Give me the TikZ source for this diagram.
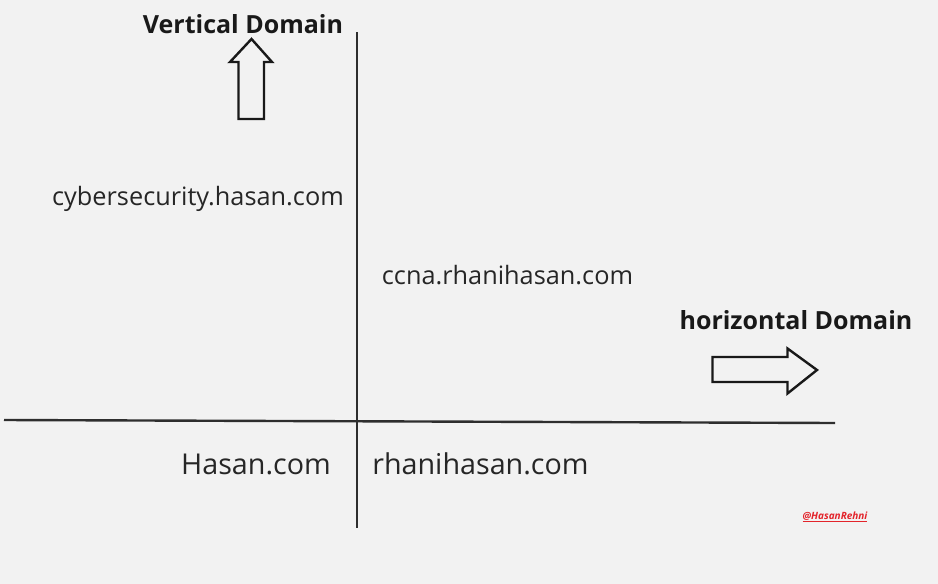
\documentclass[tikz,border=0pt]{standalone}
\usepackage{fontspec}
\setmainfont{Open Sans}
\usetikzlibrary{positioning}
\definecolor{bggray}{HTML}{F2F2F2}
\definecolor{axisgray}{HTML}{2E2E2E}
\definecolor{tagred}{HTML}{E3242B}

\begin{document}
\begin{tikzpicture}[
    x=1pt, y=-1pt,
    axis/.style={draw=axisgray, line width=2.4pt},
    blockarrow/.style={draw=black!90, line width=2.4pt, line join=miter},
    sitename/.style={font=\fontsize{28.7}{34}\selectfont, text=black!85,
                   inner sep=0pt, anchor=base},
    subsite/.style={sitename, font=\fontsize{25.3}{30}\selectfont},
    heading/.style={font=\fontsize{25}{30}\selectfont\bfseries, text=black!90,
                    inner sep=0pt, anchor=base}
  ]
  \fill[bggray] (0,0) rectangle (938,584);
  \useasboundingbox (0,0) rectangle (938,584);

  % axes
  \coordinate (vtop) at (357,32);
  \coordinate (vbot) at (357,528);
  \coordinate (hleft) at (4,420);
  \coordinate (hright) at (835,423);
  \draw[axis] (vtop) -- (vbot);
  \draw[axis] (hleft) -- (hright);

  % headings and block arrows
  \node[heading] (vert) at (243,33.5) {Vertical Domain};
  \node[heading] (horiz) at (796,329.5) {horizontal Domain};
  \draw[blockarrow] (238.5,119) -- (238.5,62) -- (230,62) -- (251.5,39)
    -- (272,62) -- (264,62) -- (264,119) -- cycle;
  \draw[blockarrow] (712.5,357) -- (787.5,357) -- (787.5,348.5) -- (817,370)
    -- (787.5,393.5) -- (787.5,382) -- (712.5,382) -- cycle;

  % domain names
  \node[subsite] (cyber) at (198,205) {cybersecurity.hasan.com};
  \node[subsite] (ccna) at (507.5,284) {ccna.rhanihasan.com};
  \node[sitename] (hasan) at (256,474) {Hasan.com};
  \node[sitename] (rhani) at (480.5,474) {rhanihasan.com};

  % tag
  \node[font=\fontsize{10}{12}\selectfont\bfseries\itshape, text=tagred,
        inner sep=0pt, anchor=base] (tag) at (835,519) {\underline{@HasanRehni}};
\end{tikzpicture}
\end{document}
